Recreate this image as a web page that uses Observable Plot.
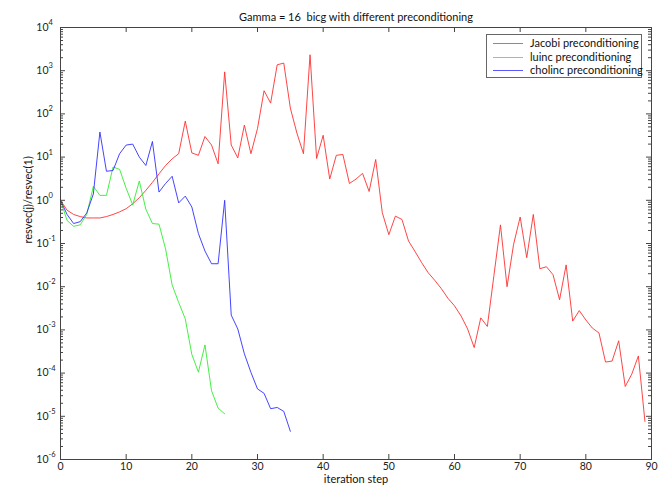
<!DOCTYPE html>
<html><head><meta charset="utf-8">
<script src="https://cdn.jsdelivr.net/npm/d3@7"></script>
<script src="https://cdn.jsdelivr.net/npm/@observablehq/plot@0.6"></script>
<style>
body{margin:0;background:#fff;}
#wrap{position:relative;width:669px;height:493px;font-family:Lato,sans-serif;}
#legend{position:absolute;left:486px;top:34px;width:154px;height:42px;border:1px solid #666;background:#fff;font-size:11px;color:#111;}
.row{position:absolute;left:0;width:154px;height:14px;}
.sw{position:absolute;left:6px;top:7px;width:30px;height:1px;}
.lb{position:absolute;left:43px;top:0;line-height:14px;white-space:nowrap;}
</style></head><body><div id="wrap"></div>
<script>
const title = "Gamma = 16  bicg with different preconditioning";
const xLabel = "iteration step";
const yLabel = "resvec(j)/resvec(1)";
const seriesNames = ["Jacobi preconditioning", "luinc preconditioning", "cholinc preconditioning"];
const seriesColors = ["#ff3030", "#30ee30", "#3030ff"];

const jacobi = [1.0, 0.59, 0.47, 0.42, 0.39, 0.39, 0.39, 0.42, 0.47, 0.54,
  0.64, 0.83, 1.15, 1.7, 2.6, 4.1, 6.4, 9.1, 12, 68,
  12.5, 11, 30, 19, 7, 940, 19, 9.6, 55, 12,
  46, 344, 178, 1370, 1500, 137, 36, 12, 2340, 9.3,
  32, 3.1, 11, 11.5, 2.45, 3.1, 4.2, 1.6, 8.8, 0.52,
  0.16, 0.43, 0.36, 0.114, 0.065, 0.036, 0.021, 0.014, 0.009, 0.0054,
  0.0036, 0.0021, 0.00105, 0.00039, 0.0019, 0.0012, 0.018, 0.27, 0.01, 0.096,
  0.41, 0.047, 0.47, 0.026, 0.029, 0.019, 0.005, 0.032, 0.0016, 0.0028,
  0.0017, 0.0011, 0.00085, 0.00018, 0.00019, 0.00056, 0.000049, 0.000095, 0.00025, 0.0000076];
const luinc = [1.0, 0.34, 0.25, 0.27, 0.47, 2.1, 1.3, 1.3, 5.9, 5.2,
  1.9, 0.78, 2.8, 0.62, 0.29, 0.28, 0.075, 0.011, 0.0043, 0.0018,
  0.00027, 0.000105, 0.00045, 0.000039, 0.0000155, 0.0000114];
const cholinc = [1.0, 0.47, 0.29, 0.32, 0.51, 1.4, 38, 4.7, 4.9, 12,
  19, 20, 10, 6.4, 23, 1.55, 2.45, 3.6, 0.87, 1.25,
  0.7, 0.17, 0.067, 0.034, 0.034, 1.0, 0.0022, 0.00105, 0.00028, 0.000104,
  0.000043, 0.000034, 0.000015, 0.000016, 0.000013, 0.0000045];

const xTicks = [0, 10, 20, 30, 40, 50, 60, 70, 80, 90];
const yExponents = [-6, -5, -4, -3, -2, -1, 0, 1, 2, 3, 4];
const minorMultipliers = [2, 3, 4, 5, 6, 7, 8, 9];

const W = 669, H = 493, mL = 60, mR = 18, mT = 27, mB = 34;
const fw = W - mL - mR, fh = H - mT - mB;
const axisColor = "#444";
const yMajor = yExponents.map(e => Math.pow(10, e));
const yMinor = yExponents.slice(0, -1).flatMap(e => minorMultipliers.map(m => m * Math.pow(10, e)));
const series = [jacobi, luinc, cholinc];

const marks = [];
series.forEach((arr, k) => {
  marks.push(Plot.line(arr, {x: (d, i) => i, y: d => d, stroke: seriesColors[k], strokeWidth: 0.9}));
});
marks.push(
  Plot.frame({stroke: axisColor, strokeWidth: 1}),
  Plot.tickX(xTicks, {x: d => d, insetTop: fh - 5, stroke: axisColor}),
  Plot.tickX(xTicks, {x: d => d, insetBottom: fh - 5, stroke: axisColor}),
  Plot.tickY(yMajor, {y: d => d, insetRight: fw - 5, stroke: axisColor}),
  Plot.tickY(yMajor, {y: d => d, insetLeft: fw - 5, stroke: axisColor}),
  Plot.tickY(yMinor, {y: d => d, insetRight: fw - 3, stroke: axisColor}),
  Plot.tickY(yMinor, {y: d => d, insetLeft: fw - 3, stroke: axisColor}),
  Plot.text(xTicks, {x: d => d, frameAnchor: "bottom", dy: 10, text: d => String(d), fontSize: 10.5, fill: "#222"}),
  Plot.text(yMajor, {y: d => d, frameAnchor: "left", dx: -12, textAnchor: "end", text: () => "10", fontSize: 10.5, fill: "#222"}),
  Plot.text(yExponents, {y: d => Math.pow(10, d), frameAnchor: "left", dx: -12, dy: -5, textAnchor: "start", text: d => String(d), fontSize: 7.5, fill: "#222"}),
  Plot.text([title], {frameAnchor: "top", dy: -14, text: d => d, fontSize: 11, fill: "#111"}),
  Plot.text([xLabel], {frameAnchor: "bottom", dy: 23, text: d => d, fontSize: 11, fill: "#111"}),
  Plot.text([yLabel], {frameAnchor: "left", dx: -32, rotate: -90, text: d => d, fontSize: 11, fill: "#111"})
);

const chart = Plot.plot({
  width: W, height: H,
  marginLeft: mL, marginRight: mR, marginTop: mT, marginBottom: mB,
  style: {fontFamily: "Lato, sans-serif", background: "#fff"},
  x: {domain: [0, 90], axis: null},
  y: {type: "log", domain: [1e-6, 1e4], axis: null},
  marks
});
const wrap = document.getElementById("wrap");
wrap.appendChild(chart);

const legend = document.createElement("div");
legend.id = "legend";
seriesNames.forEach((name, k) => {
  const row = document.createElement("div");
  row.className = "row";
  row.style.top = (1 + k * 13.5) + "px";
  const sw = document.createElement("div");
  sw.className = "sw";
  sw.style.background = seriesColors[k];
  sw.style.opacity = "0.8";
  const lb = document.createElement("div");
  lb.className = "lb";
  lb.textContent = name;
  row.appendChild(sw); row.appendChild(lb);
  legend.appendChild(row);
});
wrap.appendChild(legend);
</script></body></html>
